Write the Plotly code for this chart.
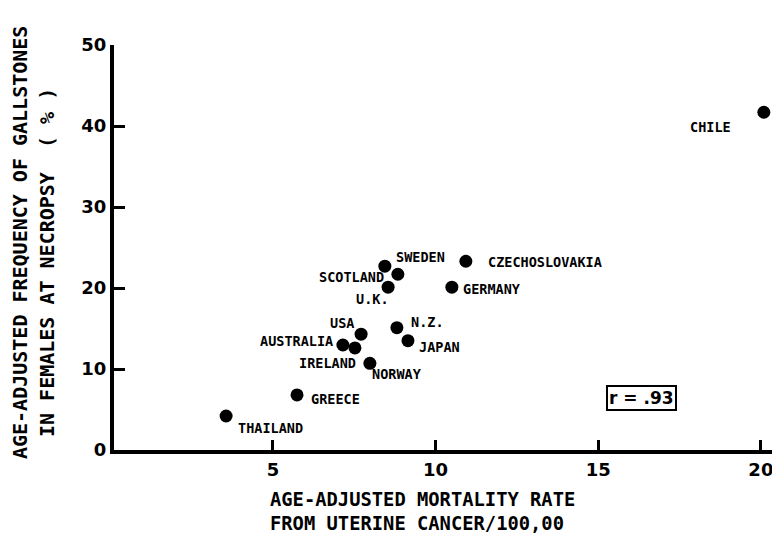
import plotly.graph_objects as go

countries = ["CHILE", "SWEDEN", "CZECHOSLOVAKIA", "SCOTLAND", "GERMANY", "U.K.", "USA", "N.Z.",
             "AUSTRALIA", "JAPAN", "IRELAND", "NORWAY", "GREECE", "THAILAND"]
mortality = [20.09, 8.44, 10.93, 8.84, 10.50, 8.54, 7.71, 8.81, 7.15, 9.15, 7.52, 7.98, 5.74, 3.56]
gallstones = [41.7, 22.7, 23.3, 21.7, 20.1, 20.1, 14.3, 15.1, 12.96, 13.5, 12.6, 10.7, 6.8, 4.2]
# label offsets in pixels (dx right, dy up) relative to each point
label_dx = [-53, 36, 79, -46, 40, -16, -19, 31, -46, 32, -27, 27, 38, 44]
label_dy = [-15, 9, -1, -3, -2, -12, 11, 6, 4, -6, -15, -11, -4, -12]

x_ticks = [5, 10, 15, 20]
y_ticks = [0, 10, 20, 30, 40, 50]
r_text = "r = .93"

MONO = "DejaVu Sans Mono"
SANS = "DejaVu Sans"

fig = go.Figure()
fig.add_trace(go.Scatter(
    x=mortality, y=gallstones, mode="markers",
    marker=dict(size=13, color="black"),
    cliponaxis=False, hoverinfo="skip",
))

for c, xv, yv, dx, dy in zip(countries, mortality, gallstones, label_dx, label_dy):
    fig.add_annotation(x=xv, y=yv, xref="x", yref="y", text=c, showarrow=False,
                       xshift=dx, yshift=dy, xanchor="center", yanchor="middle",
                       font=dict(family=MONO, size=13.5, color="black", weight="bold"))

fig.add_annotation(x=16.34, y=6.4, xref="x", yref="y", text=r_text, showarrow=False,
                   bordercolor="black", borderwidth=2, borderpad=1, bgcolor="white",
                   font=dict(family=SANS, size=17, color="black", weight="bold"))

# axis titles
fig.add_annotation(x=0.2312, y=-0.153, xref="paper", yref="paper", xanchor="left", yanchor="middle",
                   align="left", showarrow=False,
                   text="AGE-ADJUSTED MORTALITY RATE<br>FROM UTERINE CANCER/100,00",
                   font=dict(family=MONO, size=18.8, color="black", weight="bold"))
fig.add_annotation(x=-0.1411, y=0.511, xref="paper", yref="paper", textangle=-90, showarrow=False,
                   xanchor="center", yanchor="middle",
                   text="AGE-ADJUSTED FREQUENCY OF GALLSTONES",
                   font=dict(family=MONO, size=20, color="black", weight="bold"))
fig.add_annotation(x=-0.1006, y=0.4617, xref="paper", yref="paper", textangle=-90, showarrow=False,
                   xanchor="center", yanchor="middle",
                   text="IN FEMALES AT NECROPSY \u00a0( % )",
                   font=dict(family=MONO, size=20, color="black", weight="bold"))

fig.update_xaxes(range=[0.114, 20.587], showgrid=False, zeroline=False, showline=True,
                 linecolor="black", linewidth=4, ticks="inside", ticklen=10, tickwidth=3,
                 tickcolor="black", tickvals=x_ticks, ticktext=[str(v) for v in x_ticks],
                 tickfont=dict(family=SANS, size=18, color="black", weight="bold"))
fig.update_yaxes(range=[0, 50], showgrid=False, zeroline=False, showline=True,
                 linecolor="black", linewidth=4, ticks="inside", ticklen=11, tickwidth=3,
                 tickcolor="black", tickvals=y_ticks, ticktext=[str(v) for v in y_ticks],
                 tickfont=dict(family=SANS, size=18, color="black", weight="bold"))

fig.update_layout(width=772, height=526, margin=dict(l=106, r=0, t=37, b=84, autoexpand=False),
                  plot_bgcolor="white", paper_bgcolor="white", showlegend=False)

fig.write_html("out.html")
